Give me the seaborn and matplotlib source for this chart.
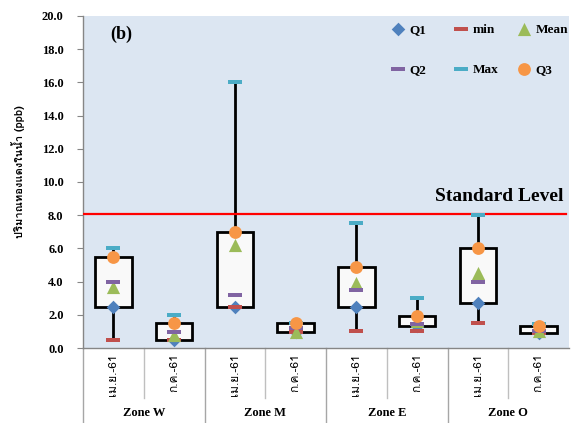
import numpy as np
import pandas as pd
import matplotlib
matplotlib.use("Agg")
import matplotlib.pyplot as plt
from matplotlib import font_manager, ft2font
import seaborn as sns

# data (ppb)
zones = ["Zone W", "Zone M", "Zone E", "Zone O"]
months = ["เม.ย.-61", "ก.ค.-61"]
q1 = [2.5, 0.5, 2.5, 0.95, 2.5, 1.35, 2.7, 0.9]
mins = [0.5, 0.5, 2.5, 0.95, 1.0, 1.0, 1.5, 0.9]
mean = [3.7, 0.8, 6.2, 0.95, 3.9, 1.6, 4.5, 1.0]
q2 = [4.0, 0.95, 3.2, 1.2, 3.5, 1.45, 4.0, 1.0]
maxs = [6.0, 2.0, 16.0, 1.5, 7.5, 3.0, 8.0, 1.45]
q3 = [5.5, 1.5, 7.0, 1.5, 4.9, 1.9, 6.0, 1.3]
standard = 8.1

# find a font that can draw Thai
thai = None
for f in font_manager.fontManager.ttflist:
    try:
        if 0x0E1B in ft2font.FT2Font(f.fname).get_charmap():
            thai = f.name
            break
    except Exception:
        pass
serif = ["Liberation Serif", "DejaVu Serif"]
thai_fam = [thai] + serif if thai else serif + ["DejaVu Sans"]
plt.rcParams["font.family"] = serif

n = len(q1)
pos = list(range(n))
box_df = pd.DataFrame({
    "pos": pos * 5,
    "value": mins + q1 + q2 + q3 + maxs,
})

fig = plt.figure(figsize=(5.71, 4.23), dpi=100)
ax = fig.add_axes([83 / 571, 75 / 423, 486 / 571, 332 / 423])
ax.set_facecolor("#DCE6F2")

sns.boxplot(data=box_df, x="pos", y="value", ax=ax, width=0.6, whis=(0, 100),
            color="#F9F9F9", linecolor="black", linewidth=2, showcaps=False,
            showfliers=False, medianprops={"visible": False}, saturation=1)

dash = np.array([[-1, -0.28], [1, -0.28], [1, 0.28], [-1, 0.28], [-1, -0.28]])
series = [
    ("Q1", q1, "D", "#4F81BD", 48),
    ("min", mins, dash, "#C0504D", 100),
    ("Mean", mean, "^", "#9BBB59", 90),
    ("Q2", q2, dash, "#8064A2", 100),
    ("Max", maxs, dash, "#4BACC6", 100),
    ("Q3", q3, "o", "#F79646", 85),
]
for name, vals, mk, col, s in series:
    sns.scatterplot(x=pos, y=vals, ax=ax, marker=mk, color=col, s=s,
                    linewidth=0, label=name, zorder=5)

ax.axhline(standard, xmin=0, xmax=0.994, color="#FF0000", lw=1.6, zorder=4)
ax.text(0.988, standard + 1.05, "Standard Level", transform=ax.get_yaxis_transform(),
        ha="right", va="center", fontsize=14, fontweight="bold")
ax.text(0.056, 18.9, "(b)", transform=ax.get_yaxis_transform(),
        ha="left", va="center", fontsize=13, fontweight="bold")

ax.set_xlim(-0.5, n - 0.5)
ax.set_ylim(0, 20)
ax.set_yticks(np.arange(0, 20.1, 2))
ax.set_yticklabels([f"{v:.1f}" for v in np.arange(0, 20.1, 2)],
                   fontsize=9, fontweight="bold")
ax.set_xticks(pos)
ax.set_xticklabels(months * len(zones), rotation=90, fontsize=8.5,
                   family=thai_fam)
ax.tick_params(axis="x", length=0, pad=4)
ax.tick_params(axis="y", length=4, color="#868686", direction="out", pad=10)
ax.set_xlabel("")
ax.set_ylabel("ปริมาณทองแดงในน้ำ (ppb)", family=thai_fam, fontsize=8,
              fontweight="bold")
ax.yaxis.set_label_coords((25 - 83) / 486, 0.53)

for side in ["top", "right"]:
    ax.spines[side].set_visible(False)
for side in ["left", "bottom"]:
    ax.spines[side].set_color("#868686")
    ax.spines[side].set_linewidth(1)

# multi-level category separators below the axis
tr = ax.get_xaxis_transform()
for i in range(len(zones)):
    ax.plot([2 * i - 0.5] * 2, [0, -0.3], transform=tr, clip_on=False,
            color="#A6A6A6", lw=1)
    ax.plot([2 * i + 0.5] * 2, [0, -0.15], transform=tr, clip_on=False,
            color="#BFBFBF", lw=1)
    ax.text(2 * i + 0.5, -0.195, zones[i], transform=tr, ha="center",
            va="center", fontsize=9, fontweight="bold")

# legend laid out like Excel: three equal-width columns, two rows
h, l = ax.get_legend_handles_labels()
hd = dict(zip(l, h))
columns = [["Q1", "Q2"], ["min", "Max"], ["Mean", "Q3"]]
marker_x = [398, 461, 524]
legends = []
for names, mx in zip(columns, marker_x):
    leg = ax.legend([hd[k] for k in names], names, loc="upper left",
                    bbox_to_anchor=((mx - 6.6) / 571, (423 - 23.5) / 423),
                    bbox_transform=fig.transFigure, frameon=False, borderpad=0,
                    borderaxespad=0, handlelength=1.0, handletextpad=0.4,
                    labelspacing=2.1,
                    prop={"family": serif, "weight": "bold", "size": 9.5})
    legends.append(leg)
for leg in legends[:-1]:
    ax.add_artist(leg)

fig.savefig("out.png", dpi=100)
